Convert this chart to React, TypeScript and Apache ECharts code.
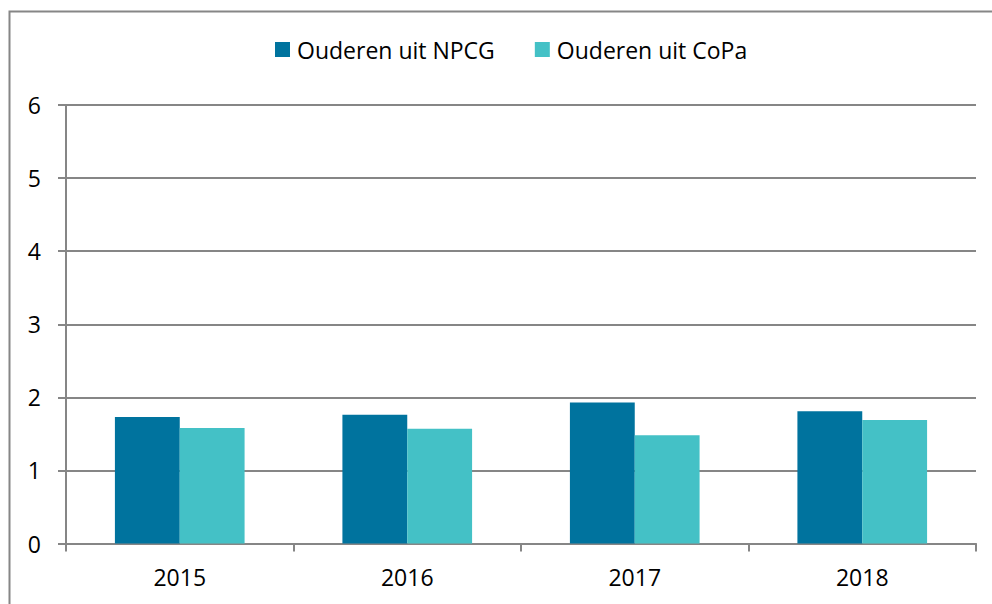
import React, { useEffect, useRef } from "react";
import * as echarts from "echarts";

const categories = ["2015", "2016", "2017", "2018"];
const npcgValues = [1.73, 1.76, 1.93, 1.81];
const copaValues = [1.58, 1.57, 1.48, 1.69];
const seriesNames = ["Ouderen uit NPCG", "Ouderen uit CoPa"];

const FONT = "'Open Sans', sans-serif";

export default function App() {
  const ref = useRef<HTMLDivElement>(null);
  useEffect(() => {
    document.body.style.margin = "0";
    const chart = echarts.init(ref.current!, null, { renderer: "svg" });
    chart.setOption({
      animation: false,
      backgroundColor: "#ffffff",
      textStyle: { fontFamily: FONT },
      graphic: [
        {
          type: "rect",
          shape: { x: 9.5, y: 11.5, width: 1100, height: 700 },
          style: { fill: "none", stroke: "#868686", lineWidth: 2 },
          silent: true,
        },
      ],
      legend: {
        top: 33,
        left: 270,
        itemWidth: 15,
        itemHeight: 15,
        itemGap: 40,
        icon: "rect",
        textStyle: { fontSize: 23, color: "#000", fontFamily: FONT, padding: [0, 0, 0, 2] },
        data: seriesNames,
      },
      grid: { left: 66, right: 16, top: 105, bottom: 60.5, containLabel: false },
      xAxis: {
        type: "category",
        data: categories,
        axisLine: { lineStyle: { color: "#868686", width: 2 } },
        axisTick: { show: true, length: 8, lineStyle: { color: "#868686", width: 2 } },
        axisLabel: { fontSize: 23, color: "#000", margin: 22, fontFamily: FONT },
      },
      yAxis: {
        type: "value",
        min: 0,
        max: 6,
        interval: 1,
        axisLine: { show: true, lineStyle: { color: "#868686", width: 2 } },
        axisTick: { show: true, length: 8, lineStyle: { color: "#868686", width: 2 } },
        splitLine: { lineStyle: { color: "#868686", width: 2 } },
        axisLabel: { fontSize: 23, color: "#000", margin: 25, fontFamily: FONT },
      },
      series: [
        {
          name: seriesNames[0],
          type: "bar",
          data: npcgValues,
          barGap: "0%",
          barCategoryGap: "43%",
          itemStyle: { color: "#00739E" },
        },
        {
          name: seriesNames[1],
          type: "bar",
          data: copaValues,
          barGap: "0%",
          barCategoryGap: "43%",
          itemStyle: { color: "#44C1C6" },
        },
      ],
    });
    return () => chart.dispose();
  }, []);
  return <div ref={ref} style={{ width: 992, height: 604 }} />;
}
